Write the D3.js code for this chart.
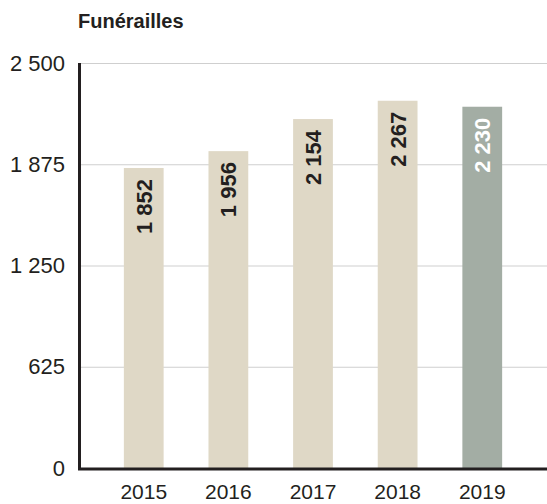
<!DOCTYPE html>
<html><head><meta charset="utf-8">
<script src="https://cdn.jsdelivr.net/npm/d3@7"></script>
<style>body{margin:0;background:#fff}svg{display:block;font-family:"Liberation Sans",Arial,sans-serif}</style>
</head><body><svg id="c" width="547" height="504"></svg>
<script>
const title = "Funérailles";
const categories = ["2015","2016","2017","2018","2019"];
const values = [1852, 1956, 2154, 2267, 2230];
const valueLabels = ["1 852","1 956","2 154","2 267","2 230"];
const yTicks = [0, 625, 1250, 1875, 2500];
const yTickLabels = ["0","625","1 250","1 875","2 500"];

const svg = d3.select("#c");
const x = d3.scaleBand().domain(categories).range([79, 547]).paddingInner(0.53).paddingOuter(0.53);
const y = d3.scaleLinear().domain([0, 2500]).range([468, 63]);

svg.append("text").attr("x", 78).attr("y", 28).attr("font-size", 20).attr("font-weight", "bold")
  .attr("fill", "#231f20").text(title);

// gridlines
svg.append("g").selectAll("line").data(yTicks.slice(1)).join("line")
  .attr("x1", 79).attr("x2", 547).attr("y1", d => y(d) + 0.5).attr("y2", d => y(d) + 0.5)
  .attr("stroke", "#cfcfcf").attr("stroke-width", 1);

// y axis labels
const yAxis = d3.axisLeft(y).tickValues(yTicks).tickFormat((d, i) => yTickLabels[i]).tickSize(0).tickPadding(0);
const gy = svg.append("g").attr("transform", "translate(65,0)").call(yAxis);
gy.select(".domain").remove();
gy.selectAll("text").attr("font-size", 22).attr("fill", "#231f20").attr("font-family", "Liberation Sans, Arial, sans-serif");

// bars
svg.append("g").selectAll("rect").data(values).join("rect")
  .attr("x", (d, i) => x(categories[i])).attr("width", x.bandwidth())
  .attr("y", d => y(d)).attr("height", d => y(0) - y(d))
  .attr("fill", (d, i) => i === values.length - 1 ? "#a3ada4" : "#dfd8c6");

// value labels
svg.append("g").selectAll("text").data(values).join("text")
  .attr("transform", (d, i) => `translate(${x(categories[i]) + x.bandwidth() / 2 + 8},${y(d) + 11}) rotate(-90)`)
  .attr("text-anchor", "end").attr("font-size", 22).attr("font-weight", "bold")
  .attr("fill", (d, i) => i === values.length - 1 ? "#ffffff" : "#231f20")
  .text((d, i) => valueLabels[i]);

// axes lines
svg.append("line").attr("x1", 79.5).attr("x2", 79.5).attr("y1", 63).attr("y2", 470)
  .attr("stroke", "#231f20").attr("stroke-width", 3);
const xAxis = d3.axisBottom(x).tickSize(0).tickPadding(0);
const gx = svg.append("g").attr("transform", "translate(0,469)").call(xAxis);
gx.select(".domain").remove();
gx.selectAll("text").attr("font-size", 21).attr("fill", "#231f20").attr("y", 30).attr("dy", null).attr("font-family", "Liberation Sans, Arial, sans-serif");
svg.append("line").attr("x1", 78).attr("x2", 547).attr("y1", 469).attr("y2", 469)
  .attr("stroke", "#231f20").attr("stroke-width", 3);
</script></body></html>
